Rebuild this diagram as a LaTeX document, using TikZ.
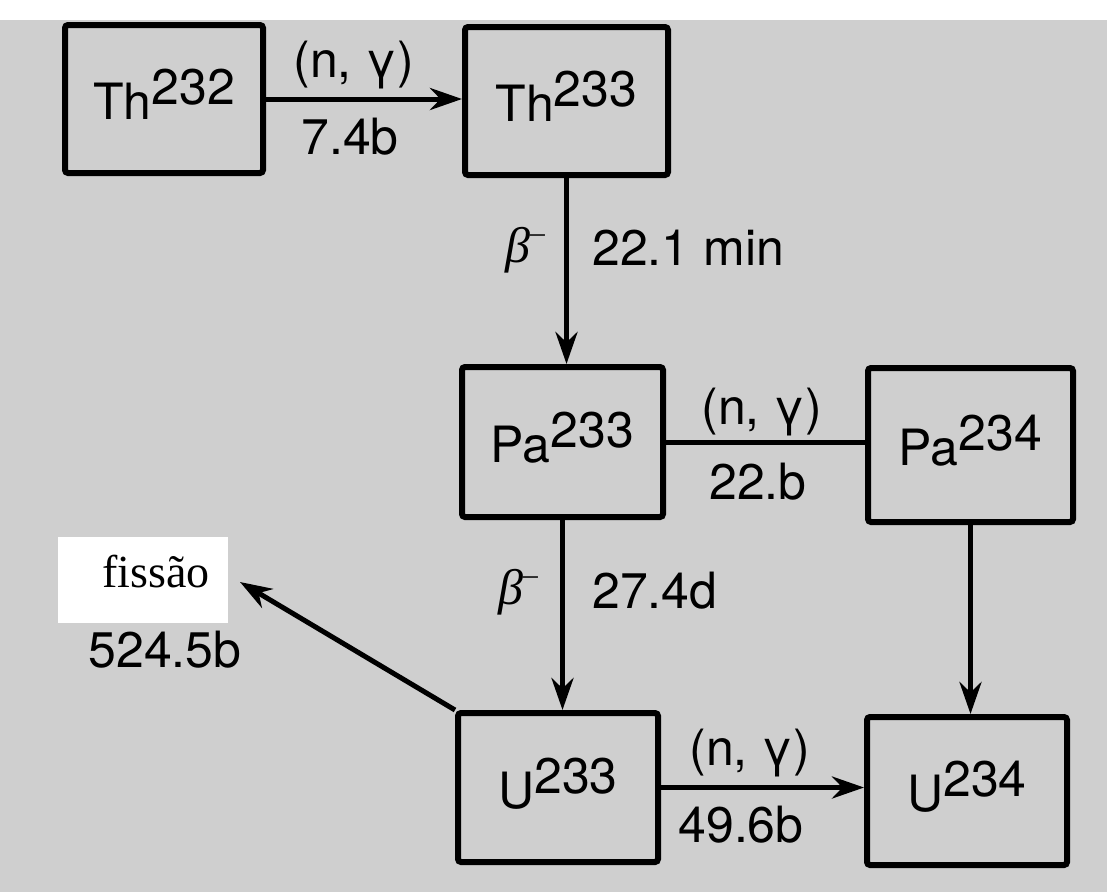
\documentclass[tikz,border=0pt]{standalone}
\usepackage{fontspec}
\setmainfont{Liberation Serif}
\setsansfont{TeX Gyre Heros}
\usetikzlibrary{arrows.meta}
\definecolor{bggray}{gray}{0.81}
\newcommand{\betaminus}{{\rmfamily\itshape β}\raisebox{20pt}{\rmfamily\fontsize{30}{30}\selectfont –}}
\begin{document}
\begin{tikzpicture}[x=1pt,y=-1pt,
  nuc/.style={draw, line width=6pt, rounded corners=3pt, inner sep=0pt,
    font=\sffamily\fontsize{50}{60}\selectfont, text height=51pt, text depth=10pt},
  lab/.style={inner sep=0pt, font=\sffamily\fontsize{50}{60}\selectfont},
  arr/.style={line width=5pt, -{Stealth[length=32pt,width=22pt]}},
  ln/.style={line width=5pt}]
\useasboundingbox (0,0) rectangle (1107,892);
\fill[white] (0,0) rectangle (1107,892);
\fill[bggray] (0,20) rectangle (1107,892);

% boxes
\node[nuc, minimum width=198pt, minimum height=148pt] (th232) at (164,99) {Th\raisebox{15pt}{232}};
\node[nuc, minimum width=203pt, minimum height=148pt] (th233) at (566.5,101) {Th\raisebox{15pt}{233}};
\node[nuc, minimum width=201pt, minimum height=150pt] (pa233) at (562.5,442) {Pa\raisebox{15pt}{233}};
\node[nuc, minimum width=205pt, minimum height=154pt] (pa234) at (970.5,445) {Pa\raisebox{15pt}{234}};
\node[nuc, minimum width=200pt, minimum height=149pt] (u233) at (558,787.5) {U\raisebox{15pt}{233}};
\node[nuc, minimum width=200pt, minimum height=148pt] (u234) at (967,791) {U\raisebox{15pt}{234}};

% fission label
\fill[white] (58,537) rectangle (228,623);
\node[inner sep=0pt, font=\rmfamily\fontsize{46}{55}\selectfont] (fis) at (156,572) {fissão};
\coordinate (fistip) at (240,582);

% connectors
\draw[arr] (th232.east) -- (th233.west |- th232.east);
\draw[arr] (th233.south) -- (pa233.north -| th233.south);
\draw[ln] (pa233.east) -- (pa234.west |- pa233.east);
\draw[arr] (pa233.south) -- (u233.north -| pa233.south);
\draw[arr] (pa234.south) -- (u234.north -| pa234.south);
\draw[arr] (u233.east) -- (u234.west |- u233.east);
\draw[arr] (u233.north west) -- (fistip);

% labels
\node[lab] (ng1) at (354,65) {(n, γ)};
\node[lab] (s1) at (350,137) {7.4b};
\node[lab] (beta1) at (525,250) {\betaminus};
\node[lab, anchor=west] (t1) at (592,248) {22.1 min};
\node[lab] (ng2) at (762,412) {(n, γ)};
\node[lab] (s2) at (758,482) {22.b};
\node[lab] (beta2) at (518,592) {\betaminus};
\node[lab, anchor=west] (t2) at (592,591) {27.4d};
\node[lab] (ng3) at (750,753) {(n, γ)};
\node[lab] (s3) at (741,825) {49.6b};
\node[lab] (s4) at (165,650) {524.5b};
\end{tikzpicture}
\end{document}
